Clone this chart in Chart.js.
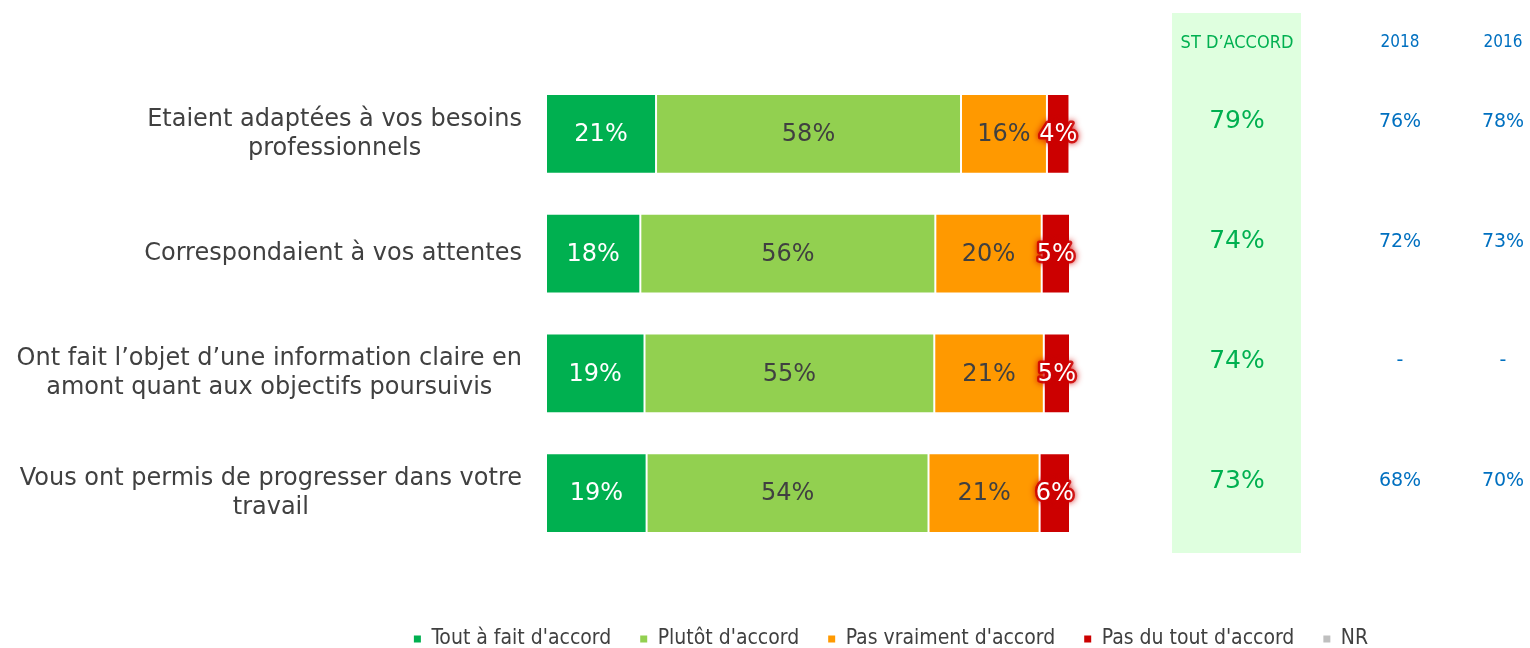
<!DOCTYPE html>
<html>
<head>
<meta charset="utf-8">
<script src="https://cdn.jsdelivr.net/npm/chart.js@4/dist/chart.umd.min.js"></script>
<style>
  html, body { margin: 0; padding: 0; background: #ffffff; }
  #wrap { width: 1530px; height: 648px; position: relative; }
</style>
</head>
<body>
<div id="wrap"><canvas id="c" width="1530" height="648"></canvas></div>
<script>
// ---- data ----
const categories = [
  ["Etaient adaptées à vos besoins", "professionnels"],
  ["Correspondaient à vos attentes"],
  ["Ont fait l’objet d’une information claire en", "amont quant aux objectifs poursuivis"],
  ["Vous ont permis de progresser dans votre", "travail"]
];
const seriesNames = ["Tout à fait d'accord", "Plutôt d'accord", "Pas vraiment d'accord", "Pas du tout d'accord", "NR"];
const toutAFait   = [21.0, 18.0, 18.8, 19.2];
const plutot      = [58.2, 56.3, 55.3, 53.8];
const pasVraiment = [16.4, 20.3, 20.9, 21.2];
const pasDuTout   = [4.3, 5.4, 5.0, 5.8];
const nonReponse  = [0, 0, 0, 0];
const stAccord    = [79, 74, 74, 73];
const val2018     = [76, 72, null, 68];
const val2016     = [78, 73, null, 70];
const sideHeaders = ["ST D’ACCORD", "2018", "2016"];

const colors = ["#00B050", "#92D050", "#FF9900", "#CC0000", "#BFBFBF"];
const labelColors = ["#ffffff", "#404040", "#404040", "#ffffff", null];
const FONT = "'DejaVu Sans', Verdana, sans-serif";
const FONT_C = "'DejaVu Sans Condensed', 'DejaVu Sans', sans-serif";

const seriesData = [toutAFait, plutot, pasVraiment, pasDuTout, nonReponse];

const datasets = seriesData.map((d, i) => ({
  label: seriesNames[i],
  data: d,
  backgroundColor: colors[i],
  borderColor: "#ffffff",
  borderWidth: 1,
  borderSkipped: false,
  categoryPercentage: 1.0,
  barPercentage: 0.668
}));

const sidePlugin = {
  id: "side",
  afterUpdate(chart) {
    const lg = chart.legend;
    if (!lg || !lg.legendHitBoxes || !lg.legendHitBoxes.length) return;
    const hb = lg.legendHitBoxes;
    const first = hb[0], last = hb[hb.length - 1];
    const cx = (first.left + last.left + last.width) / 2;
    const cy = first.top + first.height / 2;
    const dx = 891 - cx, dy = 639 - cy;
    lg.left += dx; lg.right += dx; lg.top += dy; lg.bottom += dy;
    hb.forEach(h => { h.left += dx; h.top += dy; });
  },
  beforeDatasetsDraw(chart) {
    const ctx = chart.ctx;
    const ca = chart.chartArea;
    const ys = chart.scales.y;
    ctx.save();
    ctx.fillStyle = "#DFFFDF";
    ctx.fillRect(ca.right + 102, 13, 129, ca.bottom - 13);
    ctx.font = "24px " + FONT;
    ctx.fillStyle = "#404040";
    ctx.textBaseline = "middle";
    ctx.textAlign = "center";
    const lineH = 29;
    categories.forEach((lines, i) => {
      const yc = ys.getPixelForValue(i);
      const maxW = Math.max(...lines.map(l => ctx.measureText(l).width));
      const xc = ca.left - 24 - maxW / 2;
      const y0 = yc - (lines.length - 1) * lineH / 2;
      lines.forEach((l, k) => ctx.fillText(l, xc, y0 + k * lineH));
    });
    ctx.restore();
  },
  afterDatasetsDraw(chart) {
    const ctx = chart.ctx;
    const ca = chart.chartArea;
    const ys = chart.scales.y;
    ctx.save();
    ctx.textAlign = "center";
    ctx.textBaseline = "middle";
    ctx.font = "24px " + FONT;
    chart.data.datasets.forEach((ds, di) => {
      if (!labelColors[di]) return;
      const meta = chart.getDatasetMeta(di);
      meta.data.forEach((el, j) => {
        const v = ds.data[j];
        if (!v) return;
        const txt = Math.round(v) + "%";
        const x = (el.x + el.base) / 2, y = el.y + 1;
        if (di === 3) {
          ctx.save();
          ctx.shadowColor = "#CC0000";
          ctx.shadowBlur = 6;
          ctx.lineJoin = "round";
          ctx.strokeStyle = "rgba(204,0,0,0.85)";
          ctx.lineWidth = 5;
          ctx.strokeText(txt, x, y);
          ctx.restore();
        }
        ctx.fillStyle = labelColors[di];
        ctx.fillText(txt, x, y);
      });
    });
    const colX = [ca.right + 167, ca.right + 330, ca.right + 433];
    ctx.font = "18px " + FONT_C;
    ctx.fillStyle = "#00B050";
    ctx.fillText(sideHeaders[0], colX[0], 43);
    ctx.font = "17px " + FONT_C;
    ctx.fillStyle = "#0070C0";
    ctx.fillText(sideHeaders[1], colX[1], 43);
    ctx.fillText(sideHeaders[2], colX[2], 43);
    categories.forEach((c, i) => {
      const y = ys.getPixelForValue(i) - 12;
      ctx.font = "25px " + FONT;
      ctx.fillStyle = "#00B050";
      ctx.fillText(stAccord[i] + "%", colX[0], y);
      ctx.font = "19px " + FONT;
      ctx.fillStyle = "#0070C0";
      ctx.fillText(val2018[i] == null ? "-" : val2018[i] + "%", colX[1], y);
      ctx.fillText(val2016[i] == null ? "-" : val2016[i] + "%", colX[2], y);
    });
    ctx.restore();
  }
};

new Chart(document.getElementById("c"), {
  type: "bar",
  data: { labels: categories.map(c => c.join(" ")), datasets },
  options: {
    indexAxis: "y",
    responsive: false,
    animation: false,
    layout: { padding: { top: 74, bottom: 35, left: 0, right: 0 } },
    scales: {
      x: { stacked: true, min: 0, max: 100, display: false },
      y: {
        stacked: true,
        grid: { display: false },
        border: { display: false },
        ticks: { display: false },
        afterFit(s) { s.width = 546; }
      },
      y2: {
        type: "category",
        position: "right",
        labels: categories.map(c => c.join(" ")),
        grid: { display: false },
        border: { display: false },
        ticks: { display: false },
        afterFit(s) { s.width = 460; }
      }
    },
    plugins: {
      legend: {
        position: "bottom",
        labels: {
          boxWidth: 7,
          boxHeight: 7,
          padding: 29,
          color: "#404040",
          font: { family: FONT_C, size: 21 },
          generateLabels(chart) {
            return Chart.defaults.plugins.legend.labels.generateLabels(chart).map(l => Object.assign(l, { lineWidth: 0, strokeStyle: "rgba(0,0,0,0)" }));
          }
        }
      },
      tooltip: { enabled: false }
    }
  },
  plugins: [sidePlugin]
});
</script>
</body>
</html>
